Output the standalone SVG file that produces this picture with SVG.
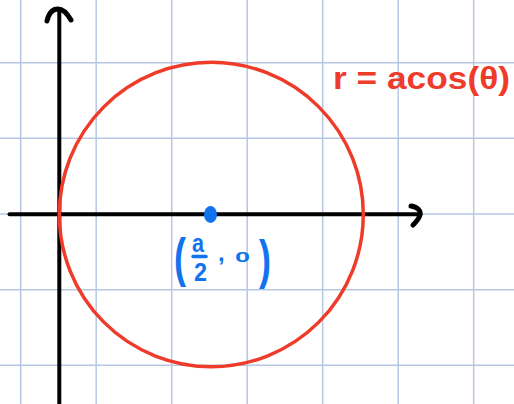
<svg xmlns="http://www.w3.org/2000/svg" width="514" height="404" viewBox="0 0 514 404">
<style>
.grid{stroke:#b7c7e3;stroke-width:1.5;fill:none}
.ax{stroke:#000;stroke-width:4;fill:none;stroke-linecap:round;stroke-linejoin:round}
.red{fill:#ef3b2a;font-family:"Liberation Sans",Arial,sans-serif;font-weight:bold}
.blue{fill:#1273ee;font-family:"Liberation Sans",Arial,sans-serif}
</style>
<rect width="514" height="404" fill="#fff"/>
<g id="grid" class="grid">
<line x1="20.7" y1="0" x2="20.7" y2="404"/>
<line x1="96.2" y1="0" x2="96.2" y2="404"/>
<line x1="171.7" y1="0" x2="171.7" y2="404"/>
<line x1="247.2" y1="0" x2="247.2" y2="404"/>
<line x1="322.7" y1="0" x2="322.7" y2="404"/>
<line x1="398.2" y1="0" x2="398.2" y2="404"/>
<line x1="473.7" y1="0" x2="473.7" y2="404"/>
<line x1="0" y1="62.7" x2="514" y2="62.7"/>
<line x1="0" y1="138.3" x2="514" y2="138.3"/>
<line x1="0" y1="214" x2="514" y2="214"/>
<line x1="0" y1="289.7" x2="514" y2="289.7"/>
<line x1="0" y1="365.3" x2="514" y2="365.3"/>
</g>
<g id="axes" class="ax">
<line x1="59.3" y1="10" x2="59.3" y2="404"/>
<path d="M47,21 C49,12 53,9 58,9 C63,9 67,13 71,20" stroke-width="5"/>
<line x1="9.5" y1="214.3" x2="417" y2="214.3"/>
<path d="M411,206 C418,207 421,211 420,215 C419,219 416,222 413,225" stroke-width="5"/>
</g>
<g id="circle">
<ellipse cx="211.3" cy="214.5" rx="152" ry="152.2" fill="none" stroke="#ef3b2a" stroke-width="3.5"/>
</g>
<g id="center-point">
<ellipse cx="210.5" cy="214.5" rx="6.5" ry="8.5" fill="#1273ee"/>
</g>
<g id="equation-label">
<text class="red" x="333" y="89" font-size="32" textLength="177" lengthAdjust="spacingAndGlyphs">r = acos(θ)</text>
</g>
<g id="point-label" class="blue">
<text x="174" y="276" font-size="54" font-weight="bold" textLength="12" lengthAdjust="spacingAndGlyphs">(</text>
<text x="192" y="252" font-size="26" font-weight="bold" textLength="12" lengthAdjust="spacingAndGlyphs">a</text>
<line x1="193" y1="256.5" x2="206" y2="256.5" stroke="#1273ee" stroke-width="3.5" stroke-linecap="round"/>
<text x="194" y="281" font-size="25" font-weight="bold" textLength="13" lengthAdjust="spacingAndGlyphs">2</text>
<text x="218" y="261" font-size="24" font-weight="bold">,</text>
<text x="235" y="262" font-size="15" font-weight="bold" textLength="15" lengthAdjust="spacingAndGlyphs">0</text>
<text x="259" y="278" font-size="54" font-weight="bold" textLength="12" lengthAdjust="spacingAndGlyphs">)</text>
</g>
</svg>
